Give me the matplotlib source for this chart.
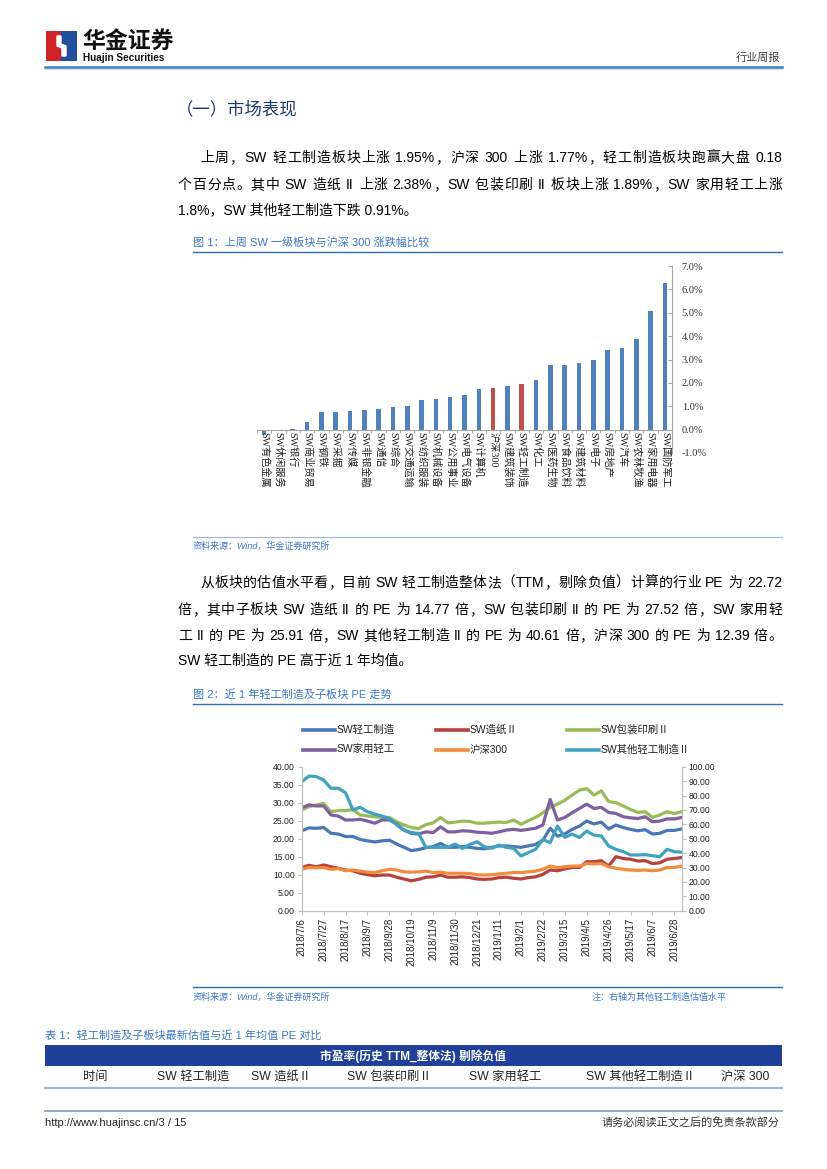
import re
import matplotlib
matplotlib.use('Agg')
import matplotlib.pyplot as plt
from matplotlib.patches import Rectangle, Polygon
from matplotlib.lines import Line2D

W, H = 827, 1169
CJK = 'Noto Sans CJK SC'
BODY = ['Liberation Sans', CJK]
SERIF = ['Liberation Serif', CJK]

# chart 1: weekly change of SW level-1 sectors vs CSI 300 (%)
sectors = ['SW有色金属', 'SW休闲服务', 'SW银行', 'SW商业贸易', 'SW钢铁', 'SW采掘', 'SW传媒',
           'SW非银金融', 'SW通信', 'SW综合', 'SW交通运输', 'SW纺织服装', 'SW机械设备',
           'SW公用事业', 'SW电气设备', 'SW计算机', '沪深300', 'SW建筑装饰', 'SW轻工制造',
           'SW化工', 'SW医药生物', 'SW食品饮料', 'SW建筑材料', 'SW电子', 'SW房地产',
           'SW汽车', 'SW农林牧渔', 'SW家用电器', 'SW国防军工']
chg = [-0.25, -0.08, 0.01, 0.32, 0.75, 0.76, 0.80, 0.83, 0.88, 0.97, 1.02, 1.26, 1.30,
       1.38, 1.47, 1.75, 1.77, 1.86, 1.95, 2.12, 2.78, 2.78, 2.85, 2.97, 3.42, 3.50,
       3.88, 5.08, 6.26]
highlight = ['沪深300', 'SW轻工制造']

# chart 2: weekly PE, 2018/7/6 - 2019/7/5
week_ticks = ['2018/7/6', '2018/7/27', '2018/8/17', '2018/9/7', '2018/9/28', '2018/10/19',
              '2018/11/9', '2018/11/30', '2018/12/21', '2019/1/11', '2019/2/1', '2019/2/22',
              '2019/3/15', '2019/4/5', '2019/4/26', '2019/5/17', '2019/6/7', '2019/6/28']
pe_light = [22.2, 23.0, 22.9, 23.1, 21.5, 21.3, 20.6, 20.6, 19.8, 19.4,
            19.1, 19.4, 19.6, 18.5, 17.6, 16.7, 17.0, 17.5, 17.8, 18.7,
            17.6, 17.6, 17.8, 17.6, 17.3, 17.2, 17.6, 18.0, 18.0, 17.8,
            17.6, 18.0, 18.4, 19.6, 22.9, 20.7, 21.3, 22.6, 23.5, 24.9,
            24.1, 24.6, 22.7, 23.8, 23.1, 22.6, 22.2, 22.5, 21.3, 21.5,
            22.3, 22.3, 22.72]
pe_paper = [12.0, 12.6, 12.2, 12.7, 12.2, 11.8, 11.3, 11.1, 10.4, 10.0,
            9.7, 9.9, 9.9, 9.3, 8.8, 8.3, 8.7, 9.3, 9.4, 9.9,
            9.3, 9.3, 9.4, 9.2, 8.8, 8.7, 8.8, 9.2, 9.3, 9.0,
            8.8, 9.2, 9.4, 10.1, 11.3, 11.1, 11.6, 12.0, 12.0, 13.6,
            13.6, 13.9, 12.4, 15.0, 14.5, 14.3, 13.8, 13.9, 13.1, 13.3,
            14.3, 14.5, 14.77]
pe_pack = [28.0, 28.9, 29.4, 29.8, 27.5, 27.8, 27.8, 28.1, 26.6, 26.3,
           26.1, 25.9, 25.9, 24.7, 23.8, 23.1, 22.8, 23.9, 24.4, 25.9,
           24.4, 24.6, 24.9, 24.8, 24.3, 24.3, 24.5, 24.6, 24.5, 25.2,
           24.0, 25.0, 25.9, 27.2, 28.7, 29.6, 30.7, 32.1, 33.5, 33.9,
           32.1, 33.3, 30.3, 30.0, 29.1, 28.1, 27.3, 27.5, 25.9, 26.6,
           27.5, 27.0, 27.52]
pe_home = [28.6, 29.4, 29.1, 29.1, 26.6, 26.3, 25.2, 25.2, 25.4, 24.9,
           24.3, 25.2, 25.2, 24.1, 22.4, 21.5, 21.3, 21.9, 21.7, 23.3,
           21.9, 21.9, 22.2, 22.1, 21.8, 21.7, 21.5, 21.9, 22.4, 22.6,
           22.3, 22.6, 22.9, 23.8, 30.9, 25.2, 25.9, 27.2, 28.4, 29.6,
           28.4, 28.7, 27.3, 27.0, 26.1, 25.8, 25.6, 26.1, 24.7, 24.9,
           25.5, 25.5, 25.91]
pe_hs300 = [11.5, 12.0, 11.9, 12.0, 11.5, 11.7, 11.1, 11.3, 11.0, 10.7,
            10.6, 11.1, 11.5, 11.3, 10.8, 10.7, 10.8, 11.0, 10.6, 10.7,
            10.4, 10.4, 10.4, 10.3, 10.0, 9.9, 10.0, 10.2, 10.4, 10.6,
            10.6, 10.8, 11.0, 11.5, 12.4, 12.0, 12.2, 12.4, 12.4, 13.1,
            13.0, 13.1, 12.2, 11.8, 11.5, 11.3, 11.2, 11.3, 11.1, 11.3,
            12.0, 12.0, 12.39]
pe_other = [89.6, 93.5, 93.1, 90.7, 85.0, 85.0, 81.9, 70.0, 71.8, 68.7,
            67.1, 65.7, 64.1, 59.5, 56.0, 54.2, 53.7, 44.0, 44.0, 44.0,
            44.0, 46.3, 43.3, 46.0, 47.9, 44.4, 43.3, 45.6, 44.0, 43.3,
            38.0, 40.3, 42.6, 49.5, 47.2, 58.8, 50.9, 53.2, 50.9, 55.3,
            52.5, 51.9, 44.9, 42.6, 41.0, 38.7, 38.7, 38.9, 38.2, 37.5,
            42.6, 41.0, 40.61]
names = ['SW轻工制造', 'SW造纸Ⅱ', 'SW包装印刷Ⅱ', 'SW家用轻工', '沪深300', 'SW其他轻工制造Ⅱ']
line_colors = ['#4A76B8', '#B8413D', '#9BBB59', '#7E5FA0', '#F08C3C', '#3FA3BF']

table_cols = ['时间', 'SW 轻工制造', 'SW 造纸Ⅱ', 'SW 包装印刷Ⅱ', 'SW 家用轻工', 'SW 其他轻工制造Ⅱ', '沪深 300']

para1 = ['上周，SW 轻工制造板块上涨 1.95%，沪深 300 上涨 1.77%，轻工制造板块跑赢大盘 0.18',
         '个百分点。其中 SW 造纸 II 上涨 2.38%，SW 包装印刷 II 板块上涨 1.89%，SW 家用轻工上涨',
         '1.8%，SW 其他轻工制造下跌 0.91%。']
para2 = ['从板块的估值水平看，目前 SW 轻工制造整体法（TTM，剔除负值）计算的行业 PE 为 22.72',
         '倍，其中子板块 SW 造纸 II 的 PE 为 14.77 倍，SW 包装印刷 II 的 PE 为 27.52 倍，SW 家用轻',
         '工 II 的 PE 为 25.91 倍，SW 其他轻工制造 II 的 PE 为 40.61 倍，沪深 300 的 PE 为 12.39 倍。',
         'SW 轻工制造的 PE 高于近 1 年均值。']

BLUE_CAP = '#3C78C3'
GRAY = '#BFBFBF'
BODY_SIZE = 10

fig = plt.figure(figsize=(W / 100, H / 100), dpi=100)


def fx(x):
    return x / W


def fy(y):
    return 1 - y / H


def txt(x, y, s, size=10, color='black', ha='left', va='baseline', family=BODY, **kw):
    return fig.text(fx(x), fy(y), s, fontsize=size, color=color, ha=ha, va=va,
                    family=family, **kw)


def hline(x0, x1, y, color, lw):
    fig.add_artist(Line2D([fx(x0), fx(x1)], [fy(y), fy(y)], color=color, lw=lw))


def rect(x, y, w, h, color):
    fig.add_artist(Rectangle((fx(x), fy(y + h)), w / W, h / H, color=color,
                             transform=fig.transFigure, lw=0))


def justify(x0, x1, y, s, size):
    # spread the tokens of one line so it fills x0..x1
    tokens = re.findall(r'[A-Za-z0-9.%]+| |.', s)
    r = fig.canvas.get_renderer()
    items = []
    for tok in tokens:
        if tok == ' ':
            items.append((None, size * 100 / 72 * 0.28))
        else:
            t = txt(0, y, tok, size)
            items.append((t, t.get_window_extent(r).width))
    gap = (x1 - x0 - sum(w for _, w in items)) / (len(items) - 1)
    x = x0
    for t, w in items:
        if t is not None:
            t.set_x(fx(x))
        x += w + gap


# ---- header
rect(46, 31, 15, 30, '#D2232A')
rect(61, 31, 16, 30, '#1F4E9C')
fig.add_artist(Polygon([(fx(57), fy(36)), (fx(61), fy(36)), (fx(61), fy(44)), (fx(66), fy(46)),
                        (fx(66), fy(56)), (fx(62), fy(56)), (fx(62), fy(48)), (fx(57), fy(46))],
                       closed=True, color='white', transform=fig.transFigure))
txt(82, 49, '华金证券', 16.5, color='#111111', family=CJK, fontweight='bold')
txt(83, 61, 'Huajin Securities', 7.2, color='#111111', family=['Liberation Sans'], fontweight='bold')
txt(780, 61, '行业周报', 8, color='#444444', ha='right', family=CJK)
hline(45, 782, 67, '#3A7FC1', 1.8)
hline(45, 782, 69, '#D9D9D9', 0.8)

# ---- section text
txt(176, 114, '（一）市场表现', 12.5, color='#1F3B73', family=CJK)
justify(200, 782, 162, para1[0], BODY_SIZE)
justify(178, 782, 189, para1[1], BODY_SIZE)
txt(178, 214, para1[2], BODY_SIZE)

# ---- figure 1
txt(193, 246, '图 1：上周 SW 一级板块与沪深 300 涨跌幅比较', 8, color=BLUE_CAP)
hline(193, 782, 252, '#2E6DB0', 1.0)

ax1 = fig.add_axes([fx(257), fy(453), (672 - 257) / W, (453 - 266) / H])
xs = list(range(len(sectors)))
bar_colors = ['#C0504D' if s in highlight else '#4F81BD' for s in sectors]
ax1.bar(xs, chg, width=0.32, color=bar_colors, zorder=2)
ax1.set_xlim(-0.5, len(sectors) - 0.5)
ax1.set_ylim(-1, 7)
ax1.axhline(0, color='#A6A6A6', lw=0.8, zorder=3)
ax1.vlines([i - 0.5 for i in range(len(sectors) + 1)], -0.13, 0, color='#A6A6A6', lw=0.8)
for i, s in enumerate(sectors):
    ax1.text(i, -0.12, s, rotation=-90, ha='center', va='top', fontsize=7.3,
             family=SERIF, color='#222222')
ax1.yaxis.tick_right()
yt = [-1, 0, 1, 2, 3, 4, 5, 6, 7]
ax1.set_yticks(yt)
ax1.set_yticklabels([f'{v:.1f}%' for v in yt], family=SERIF, fontsize=7.5, color='#333333')
ax1.tick_params(axis='y', direction='in', length=3, color='#A6A6A6', pad=7)
ax1.set_xticks([])
for side in ['top', 'left', 'bottom']:
    ax1.spines[side].set_visible(False)
ax1.spines['right'].set_color('#A6A6A6')
ax1.spines['right'].set_linewidth(0.8)
ax1.patch.set_alpha(0)

hline(193, 782, 537, '#9DB7D5', 0.8)
txt(193, 549, '资料来源：Wind，华金证券研究所', 6.5, color=BLUE_CAP, style='italic')

# ---- second paragraph
justify(200, 782, 587, para2[0], BODY_SIZE)
justify(178, 782, 614, para2[1], BODY_SIZE)
justify(178, 782, 640, para2[2], BODY_SIZE)
txt(178, 665, para2[3], BODY_SIZE)

# ---- figure 2
txt(193, 698, '图 2：近 1 年轻工制造及子板块 PE 走势', 8, color=BLUE_CAP)
hline(193, 782, 704, '#2E6DB0', 1.0)

leg_x = [303, 436, 567]
leg_y = [730, 750]
for k, nm in enumerate(names):
    lx, ly = leg_x[k % 3], leg_y[k // 3]
    hline(lx, lx + 32, ly, line_colors[k], 2.6)
    txt(lx + 34, ly, nm, 7.5, color='#222222', va='center')

ax2 = fig.add_axes([fx(301.7), fy(910.7), (681.7 - 301.7) / W, (910.7 - 766.7) / H])
t = list(range(len(pe_light)))
for k, series in enumerate([pe_light, pe_paper, pe_pack, pe_home, pe_hs300]):
    ax2.plot(t, series, color=line_colors[k], lw=2.3, solid_joinstyle='round')
ax2.set_xlim(0, len(t) - 1)
ax2.set_ylim(0, 40)
ax2.set_yticks(range(0, 41, 5))
ax2.set_yticklabels([f'{v:.2f}' for v in range(0, 41, 5)], fontsize=6.2, family=BODY, color='#222222')
ax2.set_xticks(range(0, len(t) - 1, 3))
ax2.set_xticklabels(week_ticks, rotation=90, fontsize=7, family=BODY, color='#222222')
ax2.tick_params(length=3, color=GRAY, width=0.8, pad=2)

ax3 = ax2.twinx()
ax3.plot(t, pe_other, color=line_colors[5], lw=2.3, solid_joinstyle='round')
ax3.set_ylim(0, 100)
ax3.set_yticks(range(0, 101, 10))
ax3.set_yticklabels([f'{v:.2f}' for v in range(0, 101, 10)], fontsize=6.2, family=BODY, color='#222222')
ax3.tick_params(length=3, color=GRAY, width=0.8, pad=2)
for a in (ax2, ax3):
    a.spines['top'].set_visible(False)
    for side in ['left', 'right', 'bottom']:
        a.spines[side].set_color(GRAY)
        a.spines[side].set_linewidth(0.8)

hline(193, 782, 987, '#2E6DB0', 1.0)
txt(193, 1000, '资料来源：Wind，华金证券研究所', 6.5, color=BLUE_CAP, style='italic')
txt(727, 1000, '注：右轴为其他轻工制造估值水平', 6.5, color=BLUE_CAP, ha='right')

# ---- table 1
txt(45, 1039, '表 1：轻工制造及子板块最新估值与近 1 年均值 PE 对比', 8, color=BLUE_CAP)
rect(45, 1045, 737, 21, '#1F3F98')
txt(413, 1056, '市盈率(历史 TTM_整体法) 剔除负值', 8.5, color='white', ha='center', va='center',
    fontweight='bold')
col_x = [95, 193, 281, 389, 505, 640, 745]
for cx, c in zip(col_x, table_cols):
    txt(cx, 1077, c, 8.8, ha='center', va='center', color='#222222')
hline(45, 782, 1088, '#9DB7D5', 1.6)

# ---- footer
hline(45, 782, 1111, '#8FAFD0', 1.4)
txt(45, 1126, 'http://www.huajinsc.cn/3 / 15', 8, color='#222222')
txt(780, 1126, '请务必阅读正文之后的免责条款部分', 8, color='#333333', ha='right', family=CJK)

fig.savefig('out.png', dpi=100)
